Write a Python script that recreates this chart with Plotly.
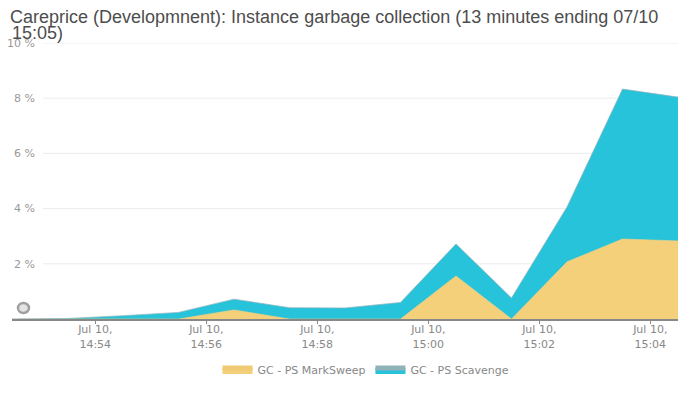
import plotly.graph_objects as go

times = ["2014-07-10 14:52:30", "2014-07-10 14:53:30", "2014-07-10 14:54:30",
         "2014-07-10 14:55:30", "2014-07-10 14:56:30", "2014-07-10 14:57:30",
         "2014-07-10 14:58:30", "2014-07-10 14:59:30", "2014-07-10 15:00:30",
         "2014-07-10 15:01:30", "2014-07-10 15:02:30", "2014-07-10 15:03:30",
         "2014-07-10 15:04:30"]
marksweep = [0, 0, 0, 0, 0.33, 0, 0, 0, 1.56, 0, 2.07, 2.9, 2.83]
scavenge = [0, 0.02, 0.12, 0.24, 0.39, 0.41, 0.4, 0.6, 1.16, 0.76, 1.99, 5.43, 5.21]
ytick_vals = [2, 4, 6, 8, 10]
ytick_text = ["2 %", "4 %", "6 %", "8 %", "10 %"]

title_line1 = "Careprice (Developmnent): Instance garbage collection (13 minutes ending 07/10"
title_line2 = "15:05)"

fig = go.Figure()
fig.add_trace(go.Scatter(x=times, y=marksweep, name="GC - PS MarkSweep",
                         stackgroup="one", mode="lines",
                         line=dict(color="#f0ca72", width=0.6),
                         fillcolor="#f5d07a", hoverinfo="skip"))
fig.add_trace(go.Scatter(x=times, y=scavenge, name="GC - PS Scavenge",
                         stackgroup="one", mode="lines",
                         line=dict(color="#8fb3b9", width=0.7),
                         fillcolor="#27c3db", hoverinfo="skip"))

shapes = []
for v in ytick_vals:
    shapes.append(dict(type="line", xref="paper", yref="y",
                       x0=31 / 666, x1=1, y0=v, y1=v,
                       line=dict(color="#ececec", width=1), layer="below"))
shapes.append(dict(type="circle", xref="paper", yref="paper",
                   x0=6 / 666, x1=17 / 666, y0=6 / 276, y1=16 / 276,
                   line=dict(color="#a0a0a0", width=2.5), fillcolor="#e4e4e4"))

title_font = dict(family="Liberation Sans", size=18, color="#4d4d4d")

fig.update_layout(
    width=689, height=402,
    margin=dict(l=12, r=11, t=43, b=83, autoexpand=False),
    paper_bgcolor="white", plot_bgcolor="white",
    title=dict(text=title_line1, x=10 / 689, xanchor="left", xref="container",
               y=1 - 16.3 / 402, yanchor="middle", yref="container",
               pad=dict(l=0, r=0, t=0, b=0), font=title_font),
    annotations=[dict(text=title_line2, xref="paper", yref="paper",
                      x=-1 / 666, xanchor="left",
                      y=1 + (43 - 33.5) / 276, yanchor="middle",
                      showarrow=False, font=title_font,
                      borderpad=0)],
    showlegend=True,
    legend=dict(orientation="h", xref="container", yref="container",
                x=366 / 689, xanchor="center", y=1 - 370 / 402, yanchor="middle",
                font=dict(family="DejaVu Sans", size=11, color="#888"),
                itemsizing="constant", traceorder="normal"),
    shapes=shapes,
    hovermode=False,
)
fig.update_xaxes(type="date", range=[times[0], times[-1]], automargin=False,
                 tick0="2014-07-10 14:54:00", dtick=120000,
                 tickformat="%b %-d,<br>%H:%M",
                 tickfont=dict(family="DejaVu Sans", size=11, color="#888"),
                 showgrid=False, zeroline=False,
                 showline=True, linecolor="#888", linewidth=2,
                 ticks="outside", ticklen=3, tickcolor="#888",
                 ticklabelstandoff=-4)
fig.update_yaxes(range=[0, 10], tickvals=ytick_vals, ticktext=ytick_text,
                 automargin=False, ticklabelposition="outside",
                 ticklabelstandoff=-24,
                 tickfont=dict(family="DejaVu Sans", size=11, color="#999"),
                 showgrid=False, zeroline=False, showline=False)

fig.write_html("out.html", config={"displayModeBar": False},
               post_script="document.body.style.margin='0px';")
